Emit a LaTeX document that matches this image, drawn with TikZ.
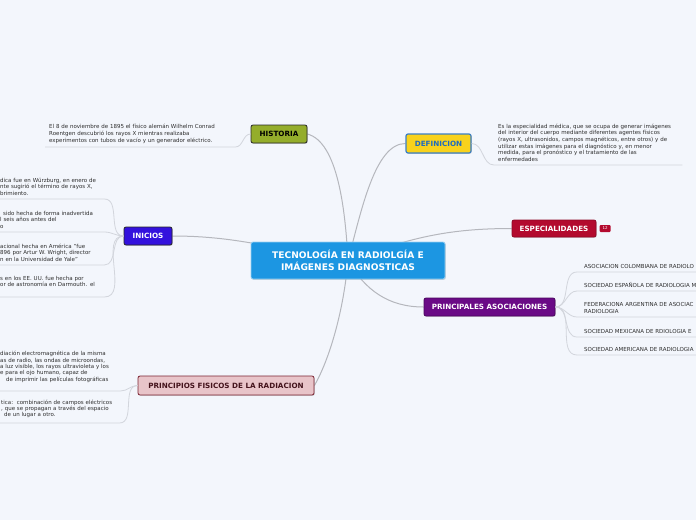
\documentclass[tikz,border=0pt]{standalone}
\usepackage{fontspec}
\setmainfont{DejaVu Sans}
\usetikzlibrary{positioning,shadows,backgrounds}
\definecolor{mapbg}{HTML}{F3F6FC}
\definecolor{linegray}{HTML}{B5B7BD}
\definecolor{leafline}{HTML}{D2D5DC}
\definecolor{leaftext}{HTML}{2E2E2E}
\definecolor{rootblue}{HTML}{1C96E2}
\definecolor{histgreen}{HTML}{94AD2B}
\definecolor{defyellow}{HTML}{F8D21C}
\definecolor{defblue}{HTML}{3B7FC4}
\definecolor{deftext}{HTML}{1E6BBF}
\definecolor{espred}{HTML}{B30A2E}
\definecolor{asocpurple}{HTML}{6A0A86}
\definecolor{iniviolet}{HTML}{3311DD}
\definecolor{prinpink}{HTML}{E8C4C9}
\definecolor{prinred}{HTML}{7B2332}

\begin{document}
\begin{tikzpicture}[x=1pt, y=1pt,
  topic/.style={rounded corners=2pt, line width=0.8pt, inner sep=0pt, minimum height=18pt, font=\fontsize{7.2}{8.5}\selectfont\bfseries, drop shadow={opacity=0.3, shadow xshift=0.8pt, shadow yshift=-0.8pt}},
  root/.style={topic, fill=rootblue, draw=white!55!rootblue, text=white, align=center, font=\fontsize{9.1}{11.5}\selectfont\bfseries, minimum width=194pt, minimum height=37pt},
  leaf/.style={inner xsep=4pt, inner ysep=3.5pt, align=left, text=leaftext, font=\fontsize{5.5}{6.6}\selectfont},
  link/.style={draw=linegray, line width=1pt},
  under/.style={draw=leafline, line width=0.8pt},
]
\useasboundingbox (0,0) rectangle (696,-520);
\begin{scope}[on background layer]
  \fill[mapbg] (0,0) rectangle (696,-520);
\end{scope}

% ── central topic ──
\node[root] (root) at (348,-260.5) {TECNOLOGÍA EN RADIOLGÍA E\\IMÁGENES DIAGNOSTICAS};

% ── main topics ──
\node[topic, fill=histgreen, draw=black!85, minimum width=56pt] (hist) at (279,-134) {HISTORIA};
\node[topic, fill=defyellow, draw=defblue, line width=1.2pt, text=deftext, minimum width=65pt, minimum height=19pt] (def) at (438.5,-143.5) {DEFINICION};
\node[topic, fill=espred, draw=espred!80!black, text=white, minimum width=84pt, minimum height=17pt] (esp) at (554,-228.5) {ESPECIALIDADES};
\node[fill=espred, rounded corners=1pt, text=white, inner sep=0pt, minimum width=11pt, minimum height=7pt, font=\fontsize{4}{4}\selectfont, right=3pt of esp] (cnt) {12};
\node[topic, fill=asocpurple, draw=asocpurple!70!black, text=white, minimum width=131pt] (asoc) at (489.5,-307) {PRINCIPALES ASOCIACIONES};
\node[topic, fill=iniviolet, draw=black!85, text=white, minimum width=48pt] (ini) at (148,-236) {INICIOS};
\node[topic, fill=prinpink, draw=prinred, text=prinred!55!black, minimum width=176pt, minimum height=19pt] (prin) at (226,-385.5) {PRINCIPIOS FISICOS DE LA RADIACION};

% links from the central topic
\begin{scope}[on background layer]
  \draw[link] (root.center) to[out=93, in=-15, in looseness=0.6] (hist.east);
  \draw[link] (root.center) to[out=75, in=180, in looseness=0.6] (def.west);
  \draw[link] (root.center) to[out=20, in=180] (esp.west);
  \draw[link] (root.center) to[out=-60, in=180] (asoc.west);
  \draw[link] (root.center) to[out=172, in=0] (ini.east);
  \draw[link] (root.center) to[out=-95, in=60, in looseness=0.6] (prin.east);
\end{scope}

% ── HISTORIA ──
\node[leaf, text width=182pt, anchor=south west] (histtxt) at (45,-147) {El 8 de noviembre de 1895 el físico alemán Wilhelm Conrad\\Roentgen descubrió los rayos X mientras realizaba\\experimentos con tubos de vacío y un generador eléctrico.};
\draw[under] (hist.west) to[out=180, in=0] (histtxt.south east) -- (histtxt.south west);

% ── DEFINICION ──
\node[leaf, text width=180pt, anchor=south west] (deftxt) at (494,-165) {Es la especialidad médica, que se ocupa de generar imágenes\\del interior del cuerpo mediante diferentes agentes físicos\\(rayos X, ultrasonidos, campos magnéticos, entre otros) y de\\utilizar estas imágenes para el diagnóstico y, en menor\\medida, para el pronóstico y el tratamiento de las\\enfermedades};
\draw[under] (def.east) to[out=0, in=180] (deftxt.south west) -- (deftxt.south east);

% ── INICIOS ──
\node[leaf, text width=100pt, anchor=south west] (ini1) at (-4,-199) {dica fue en Würzburg, en enero de\\nte sugirió el término de rayos X,\\brimiento.};
\node[leaf, text width=100pt, anchor=south west] (ini2) at (-4,-232) {\hspace*{3pt}sido hecha de forma inadvertida\\l seis años antes del\\o};
\node[leaf, text width=100pt, anchor=south west] (ini3) at (-4,-265) {acional hecha en América "fue\\896 por Artur W. Wright, director\\n en la Universidad de Yale"};
\node[leaf, text width=100pt, inner ysep=10pt, anchor=south west] (ini4) at (-4,-297) {s en los EE. UU. fue hecha por\\or de astronomía en Darmouth. el};
\foreach \n in {ini1,ini2,ini3,ini4}
  \draw[under] (ini.west) to[out=180, in=0] (\n.south east) -- (\n.south west);

% ── PRINCIPIOS ──
\node[leaf, text width=116pt, inner ysep=8.5pt, font=\fontsize{5.5}{6.3}\selectfont, anchor=south west] (prin1) at (-4,-391) {diación electromagnética de la misma\\as de radio, las ondas de microondas,\\a luz visible, los rayos ultravioleta y los\\e para el ojo humano, capaz de\\\hspace*{6pt}de imprimir las películas fotográficas};
\node[leaf, text width=114pt, inner ysep=5pt, font=\fontsize{5.5}{6.1}\selectfont, anchor=south west] (prin2) at (-3,-423) {tica:\ \ combinación de campos eléctricos\\, que se propagan a través del espacio\\\hspace*{3pt}de un lugar a otro.};
\foreach \n in {prin1,prin2}
  \draw[under] (prin.west) to[out=180, in=0] (\n.south east) -- (\n.south west);

% ── PRINCIPALES ASOCIACIONES ──
\node[leaf, inner xsep=7pt, text width=150pt, anchor=south west] (asoc1) at (577,-272) {ASOCIACION COLOMBIANA DE RADIOLO};
\node[leaf, inner xsep=7pt, text width=150pt, anchor=south west] (asoc2) at (577,-291) {SOCIEDAD ESPAÑOLA DE RADIOLOGIA M};
\node[leaf, inner xsep=7pt, text width=150pt, anchor=south west] (asoc3) at (577,-317) {FEDERACIONA ARGENTINA DE ASOCIAC\\RADIOLOGIA};
\node[leaf, inner xsep=7pt, text width=150pt, anchor=south west] (asoc4) at (577,-337) {SOCIEDAD MEXICANA DE RDIOLOGIA E};
\node[leaf, inner xsep=7pt, text width=150pt, anchor=south west] (asoc5) at (577,-355) {SOCIEDAD AMERICANA DE RADIOLOGIA};
\foreach \n in {asoc1,asoc2,asoc3,asoc4,asoc5}
  \draw[under] (asoc.east) to[out=0, in=180] (\n.south west) -- (\n.south east);

\end{tikzpicture}
\end{document}
